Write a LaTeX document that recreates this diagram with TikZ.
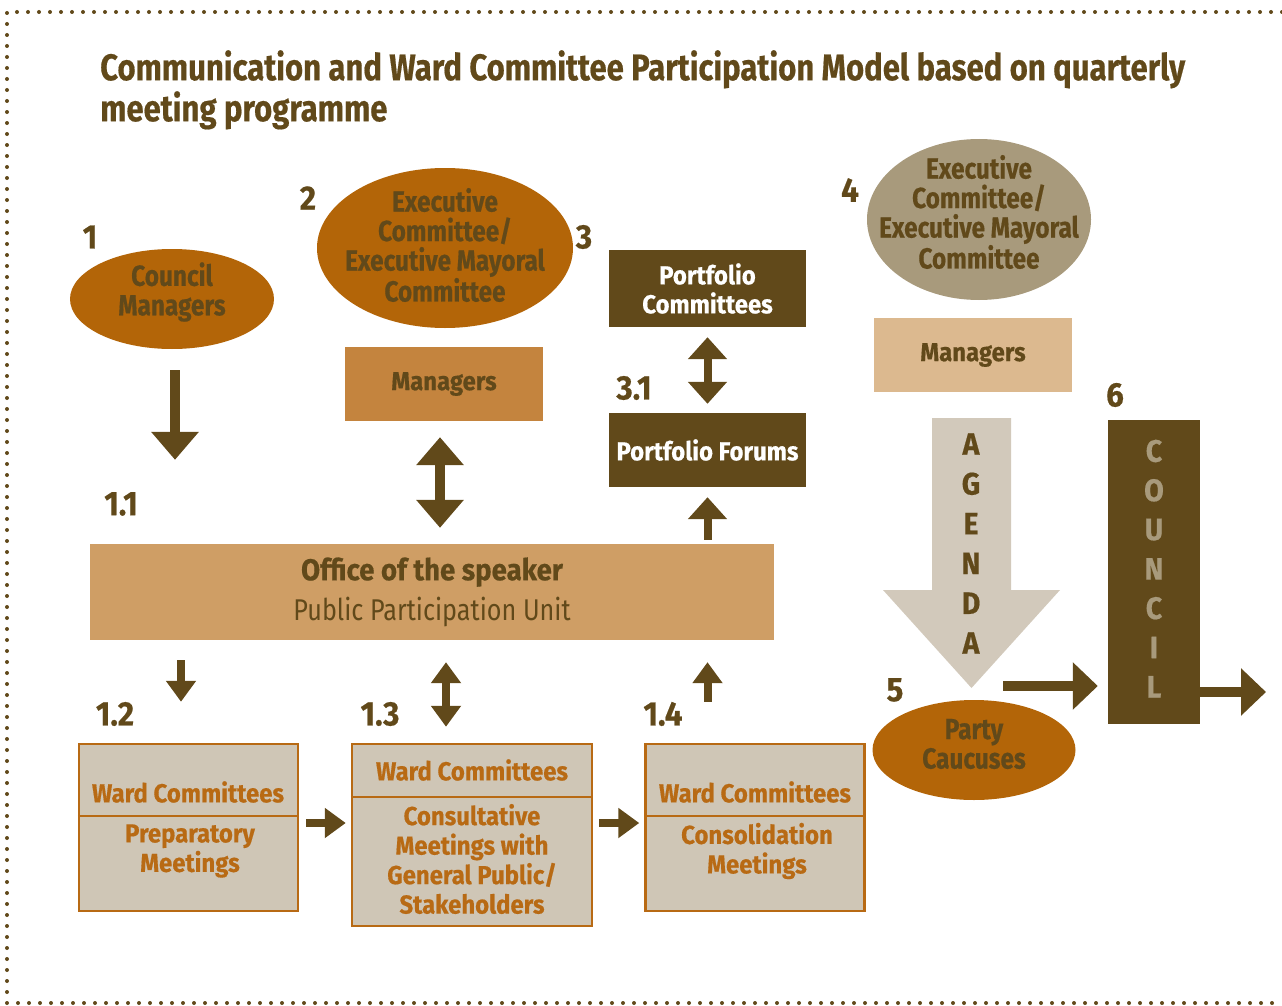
\documentclass[tikz,border=0pt]{standalone}
\usepackage{fontspec}
\newfontfamily\futfont[FakeStretch=0.84,BoldFeatures={FakeBold=0.5}]{Fira Sans}
\newfontfamily\widefont[FakeStretch=0.92,BoldFeatures={FakeBold=0.5}]{Fira Sans}
\usepackage{xcolor}
\definecolor{DarkBrown}{RGB}{97,73,26}
\definecolor{OvalOrange}{RGB}{179,101,8}
\definecolor{OvalGrey}{RGB}{168,154,124}
\definecolor{MgrBrown}{RGB}{196,132,62}
\definecolor{MgrSand}{RGB}{220,185,143}
\definecolor{OfficeFill}{RGB}{207,158,101}
\definecolor{WardFill}{RGB}{207,198,182}
\definecolor{WardLine}{RGB}{184,106,20}
\definecolor{AgendaFill}{RGB}{210,201,187}
\usetikzlibrary{
  positioning,
  arrows.meta,
  shapes.geometric,
  calc
}
\tikzset{
  % Committee ellipse
  oval/.style={
    ellipse,
    inner sep=0pt
  },
  % Text inside an ellipse
  ovaltext/.style={
    align=center,
    text=DarkBrown,
    font=\futfont\bfseries\fontsize{29}{29.5}\selectfont
  },
  % Plain filled box
  block/.style={
    rectangle,
    inner sep=0pt,
    align=center,
    text=DarkBrown,
    font=\widefont\bfseries\fontsize{26}{29}\selectfont
  },
  % Ward committee box
  wardbox/.style={
    rectangle,
    draw=WardLine,
    fill=WardFill,
    line width=2.5pt,
    minimum width=219,
    inner sep=0pt
  },
  wardtext/.style={
    align=center,
    text=WardLine,
    font=\widefont\bfseries\fontsize{26}{29.5}\selectfont
  },
  % Step number
  num/.style={
    text=DarkBrown,
    font=\widefont\bfseries\fontsize{34}{34}\selectfont
  },
  % Arrows
  bigarr/.style={
    draw=DarkBrown,
    line width=10pt,
    -{Triangle[width=46pt,length=28pt]}
  },
  bigdbl/.style={
    draw=DarkBrown,
    line width=10pt,
    {Triangle[width=46pt,length=28pt]}-{Triangle[width=46pt,length=28pt]}
  },
  midarr/.style={
    draw=DarkBrown,
    line width=8pt,
    -{Triangle[width=38pt,length=22pt]}
  },
  middbl/.style={
    draw=DarkBrown,
    line width=8pt,
    {Triangle[width=38pt,length=22pt]}-{Triangle[width=38pt,length=22pt]}
  },
  smallarr/.style={
    draw=DarkBrown,
    line width=8pt,
    -{Triangle[width=29pt,length=21pt]}
  },
  smalldbl/.style={
    draw=DarkBrown,
    line width=8pt,
    {Triangle[width=29pt,length=21pt]}-{Triangle[width=29pt,length=21pt]}
  },
  sidearr/.style={
    draw=DarkBrown,
    line width=10pt,
    -{Triangle[width=46pt,length=25pt]}
  },
  % Dotted frame
  dotframe/.style={
    draw=DarkBrown,
    line width=4pt,
    line cap=round,
    dash pattern=on 0pt off 11pt
  },
  % Vertical letters
  vletter/.style={
    font=\widefont\bfseries\fontsize{31}{31}\selectfont
  }
}

\begin{document}
\begin{tikzpicture}[x=1pt,y=-1pt]
  \useasboundingbox (0,0) rectangle (1282,1006);
  \draw[dotframe] (1282,12) -- (7,12) -- (7,1003) -- (1282,1003);

  % Title
  \node[anchor=north west, align=left, inner sep=0pt, text=DarkBrown,
        font=\futfont\bfseries\fontsize{37}{41}\selectfont] (title) at (100,50)
    {Communication and Ward Committee Participation Model based on quarterly\\meeting programme};

  % Top row
  \node[oval, fill=OvalOrange, minimum width=204, minimum height=100] (cm) at (172,299) {};
  \node[ovaltext] (cmtext) at (172,292) {Council\\Managers};
  \node[oval, fill=OvalOrange, minimum width=256, minimum height=160] (exec) at (445,248) {};
  \node[ovaltext] (exectext) at (445,245) {Executive\\Committee/\\Executive Mayoral\\Committee};
  \node[block, fill=MgrBrown, minimum width=198, minimum height=74] (mgr) at (444,384) {Managers};
  \node[block, fill=DarkBrown, text=white, minimum width=197, minimum height=77] (pcom) at (707.5,288.5) {Portfolio\\Committees};
  \node[block, fill=DarkBrown, text=white, minimum width=197, minimum height=74] (pfor) at (707.5,450) {Portfolio Forums};
  \node[oval, fill=OvalGrey, minimum width=224, minimum height=161] (exec4) at (979,219.5) {};
  \node[ovaltext] (exec4text) at (979,212) {Executive\\Committee/\\Executive Mayoral\\Committee};
  \node[block, fill=MgrSand, minimum width=198, minimum height=74] (mgr4) at (973,355) {Managers};

  % Office of the speaker
  \node[block, fill=OfficeFill, minimum width=684, minimum height=96,
        font=\fontsize{30}{40}\selectfont] (office) at (432,592)
    {{\widefont\bfseries Office of the speaker}\\{\futfont Public Participation Unit}};

  % Ward committees
  \node[wardbox, minimum height=167] (w1) at (188.5,827.5) {};
  \draw[WardLine, line width=2.5pt] (w1.west |- 0,816) -- (w1.east |- 0,816);
  \node[wardtext] (w1head) at (188,792) {Ward Committees};
  \node[wardtext] (w1body) at (190,851) {Preparatory\\Meetings};

  \node[wardbox, minimum width=240, minimum height=182] (w2) at (472,835) {};
  \draw[WardLine, line width=2.5pt] (w2.west |- 0,797) -- (w2.east |- 0,797);
  \node[wardtext] (w2head) at (472,770) {Ward Committees};
  \node[wardtext] (w2body) at (472,859) {Consultative\\Meetings with\\General Public/\\Stakeholders};

  \node[wardbox, minimum height=167] (w3) at (755,827.5) {};
  \draw[WardLine, line width=2.5pt] (w3.west |- 0,816) -- (w3.east |- 0,816);
  \node[wardtext] (w3head) at (755,792) {Ward Committees};
  \node[wardtext] (w3body) at (757,851) {Consolidation\\Meetings};

  % Agenda arrow
  \fill[AgendaFill] (932,418) -- (1011,418) -- (1011,590) -- (1060,590)
    -- (971.5,688) -- (883,590) -- (932,590) -- cycle;
  \foreach \ch [count=\i] in {A,G,E,N,D,A}
    \node[vletter, text=DarkBrown] (ag\i) at (971,{444+39.8*(\i-1)}) {\ch};

  \node[oval, fill=OvalOrange, minimum width=203, minimum height=100] (party) at (974,750) {};
  \node[ovaltext] (partytext) at (974,744) {Party\\Caucuses};

  % Council
  \node[block, fill=DarkBrown, minimum width=92, minimum height=304] (council) at (1154,572) {};
  \foreach \ch [count=\i] in {C,O,U,N,C,I,L}
    \node[vletter, text=OvalGrey] (cl\i) at (1154,{451+39.3*(\i-1)}) {\ch};

  % Step numbers
  \node[num] (n1) at (90,237) {1};
  \node[num] (n2) at (308,198) {2};
  \node[num] (n3) at (584,237) {3};
  \node[num] (n11) at (121,504) {1.1};
  \node[num] (n31) at (634,388) {3.1};
  \node[num] (n12) at (115,714) {1.2};
  \node[num] (n13) at (380,714) {1.3};
  \node[num] (n14) at (663,714) {1.4};
  \node[num] (n4) at (850,190) {4};
  \node[num] (n5) at (895,690) {5};
  \node[num] (n6) at (1115,395) {6};

  % Connectors
  \draw[bigarr, shorten <=21pt, shorten >=84pt] ($(cm.south)+(3,0)$) -- ($(cm.south |- office.north)+(3,0)$);
  \draw[bigdbl, shorten <=16pt, shorten >=16pt] ($(mgr.south)+(-4,0)$) -- ($(mgr.south |- office.north)+(-4,0)$);
  \draw[middbl, shorten <=10pt, shorten >=9pt] (pcom.south) -- (pfor.north);
  \draw[midarr, shorten <=4pt, shorten >=10pt] (pfor.south |- office.north) -- (pfor.south);
  \draw[smallarr, shorten <=20pt, shorten >=41pt] ($(w1.north |- office.south)+(-7.5,0)$) -- ($(w1.north)+(-7.5,0)$);
  \draw[smalldbl, shorten <=22pt, shorten >=16pt] ($(w2.north |- office.south)+(-26,0)$) -- ($(w2.north)+(-26,0)$);
  \draw[smallarr, shorten <=41pt, shorten >=22pt] (pfor.south |- w3.north) -- (pfor.south |- office.south);
  \draw[smallarr, shorten <=7pt, shorten >=5pt] ($(w1.east)+(0,-4.5)$) -- ($(w1.east -| w2.west)+(0,-4.5)$);
  \draw[smallarr, shorten <=6pt, shorten >=5pt] ($(w3.west -| w2.east)+(0,-4.5)$) -- ($(w3.west)+(0,-4.5)$);
  \coordinate (cstart) at (1003,686);
  \coordinate (cout) at (1266,692);
  \draw[sidearr, shorten >=10pt] (cstart) -- (cstart -| council.west);
  \draw[sidearr] (council.east |- cout) -- (cout);
\end{tikzpicture}
\end{document}
